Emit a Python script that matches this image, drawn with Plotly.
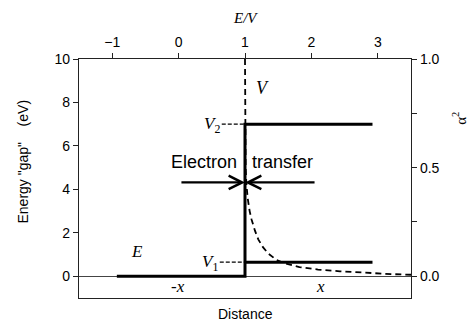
import plotly.graph_objects as go

# step profile (E/V units on x, energy gap in eV on y)
step_x = [-0.93, 1.0, 1.0, 2.92]
step_y = [0.0, 0.0, 7.0, 7.0]
v1_x = [1.0, 2.92]
v1_y = [0.65, 0.65]
v2_dash_x = [0.65, 1.0]
v2_dash_y = [7.0, 7.0]
v1_dash_x = [0.62, 1.0]
v1_dash_y = [0.65, 0.65]

# alpha^2 curve (right axis)
alpha_x = [1.0, 1.002, 1.01, 1.02, 1.04, 1.07, 1.1, 1.15, 1.2, 1.27, 1.35,
           1.47, 1.6, 1.82, 2.1, 2.43, 2.8, 3.2, 3.5]
alpha_y = [1.0, 0.7, 0.5, 0.43, 0.36, 0.30, 0.26, 0.21, 0.17, 0.134, 0.105,
           0.076, 0.06, 0.042, 0.031, 0.023, 0.016, 0.01, 0.007]

top_ticks = [-1, 0, 1, 2, 3]
left_ticks = [0, 2, 4, 6, 8, 10]
right_ticks = [0.0, 0.25, 0.5, 0.75, 1.0]
right_labels = ["0.0", "", "0.5", "", "1.0"]

arrow_y = 4.32
arrow_from_left = 0.02
arrow_from_right = 2.07
arrow_to = 1.0

sans = "Liberation Sans, Arial, sans-serif"
serif = "Liberation Serif, Times New Roman, serif"

fig = go.Figure()
fig.add_trace(go.Scatter(x=step_x, y=step_y, mode='lines',
                         line=dict(color='black', width=3), showlegend=False))
fig.add_trace(go.Scatter(x=v1_x, y=v1_y, mode='lines',
                         line=dict(color='black', width=3), showlegend=False))
fig.add_trace(go.Scatter(x=v2_dash_x, y=v2_dash_y, mode='lines',
                         line=dict(color='black', width=1.2, dash='4px,2px'), showlegend=False))
fig.add_trace(go.Scatter(x=v1_dash_x, y=v1_dash_y, mode='lines',
                         line=dict(color='black', width=1.2, dash='4px,2px'), showlegend=False))
fig.add_trace(go.Scatter(x=alpha_x, y=alpha_y, mode='lines', xaxis='x2', yaxis='y2',
                         line=dict(color='black', width=1.8, dash='6px,4px'), showlegend=False))

# electron transfer arrows
for x0 in [arrow_from_left, arrow_from_right]:
    fig.add_annotation(x=arrow_to, y=arrow_y, ax=x0, ay=arrow_y, xref='x', yref='y',
                       axref='x', ayref='y', text='', showarrow=True,
                       arrowhead=5, arrowsize=1.2, arrowwidth=2.2, arrowcolor='black')

labels = [
    ("Electron\u00a0\u00a0 transfer", 0.96, 5.26, 'center', sans, 18),
    ("<i>V</i>", 1.27, 8.66, 'center', serif, 18),
    ("<i>V</i><sub>2</sub>", 0.66, 6.95, 'right', serif, 17),
    ("<i>V</i><sub>1</sub>", 0.62, 0.63, 'right', serif, 17),
    ("<i>E</i>", -0.63, 1.14, 'center', serif, 17),
    ("-<i>x</i>", -0.01, -0.45, 'center', serif, 17),
    ("<i>x</i>", 2.14, -0.45, 'center', serif, 17),
]
for txt, lx, ly, anc, fam, sz in labels:
    fig.add_annotation(x=lx, y=ly, xref='x', yref='y', text=txt, showarrow=False,
                       xanchor=anc, font=dict(family=fam, size=sz, color='black'))

# axis titles placed in pixels relative to the plot frame
titles = [
    ("<i>E/V</i>", 0.5, 1.0, 0, 41, 0, serif, 15),
    ("Distance", 0.5, 0.0, 0, -16, 0, sans, 14),
    ("Energy \"gap\"\u00a0\u00a0\u00a0 (eV)", 0.0, 0.5, -57, 17, -90, sans, 14),
    ("α<sup>2</sup>", 1.0, 0.75, 48, 0, -90, serif, 15),
]
for txt, px, py, dx, dy, ang, fam, sz in titles:
    fig.add_annotation(x=px, y=py, xref='paper', yref='paper', text=txt, showarrow=False,
                       xshift=dx, yshift=dy, textangle=ang, xanchor='center', yanchor='middle',
                       font=dict(family=fam, size=sz, color='black'))

axis_common = dict(showgrid=False, showline=True, linecolor='#222', linewidth=1.2,
                   ticks='outside', ticklen=5, tickcolor='#222', automargin=False,
                   tickfont=dict(family=sans, size=14, color='black'))

fig.update_layout(
    width=469, height=324,
    margin=dict(l=79, r=58, t=59, b=26),
    plot_bgcolor='white', paper_bgcolor='white',
    xaxis=dict(range=[-1.5, 3.5], showgrid=False, showline=True, linecolor='#222',
               linewidth=1.2, showticklabels=False, ticks='', zeroline=False,
               automargin=False),
    xaxis2=dict(axis_common, range=[-1.5, 3.5], overlaying='x', side='top',
                tickvals=top_ticks, zeroline=False),
    yaxis=dict(axis_common, range=[-1, 10], tickvals=left_ticks,
               zeroline=True, zerolinecolor='#444', zerolinewidth=1),
    yaxis2=dict(axis_common, range=[-0.1, 1.0], overlaying='y', side='right',
                tickvals=right_ticks, ticktext=right_labels, zeroline=False),
)

# drop the default page margin so the figure sits at the window's corner
fig.write_html("out.html", config={'displayModeBar': False},
               post_script="document.body.style.margin='0';")
